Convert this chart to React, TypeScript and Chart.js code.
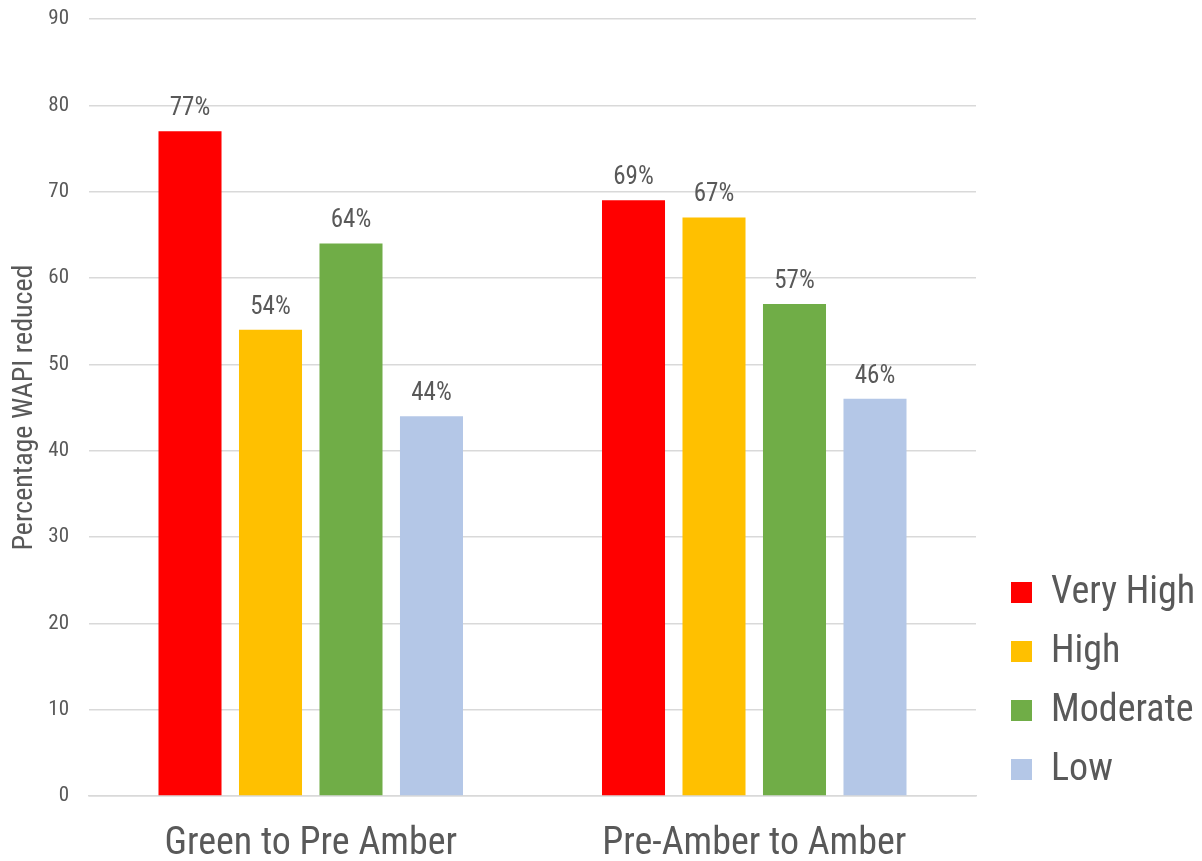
import React, { useEffect, useRef } from "react";
import { Chart, registerables } from "chart.js";

Chart.register(...registerables);

const categories = ["Green to Pre Amber", "Pre-Amber to Amber"];
const seriesNames = ["Very High", "High", "Moderate", "Low"];
const veryHigh = [77, 69];
const high = [54, 67];
const moderate = [64, 57];
const low = [44, 46];
const colors = ["#FF0000", "#FFC000", "#70AD47", "#B4C7E7"];
const yTicks = [0, 10, 20, 30, 40, 50, 60, 70, 80, 90];

const FONT = "'Liberation Sans Narrow', 'Arial Narrow', 'Roboto Condensed', 'Liberation Sans', sans-serif";
const TEXT = "#595959";

const labelPlugin = {
  id: "barLabels",
  afterDatasetsDraw(chart: any) {
    const ctx = chart.ctx;
    ctx.save();
    ctx.font = `25px ${FONT}`;
    ctx.fillStyle = TEXT;
    ctx.textAlign = "center";
    ctx.textBaseline = "bottom";
    chart.data.datasets.forEach((ds: any, i: number) => {
      const meta = chart.getDatasetMeta(i);
      meta.data.forEach((bar: any, j: number) => {
        ctx.fillText(`${ds.data[j]}%`, bar.x, bar.y - 10);
      });
    });
    ctx.restore();
  },
};

const legendPlugin = {
  id: "customLegend",
  afterDraw(chart: any) {
    const ctx = chart.ctx;
    ctx.save();
    ctx.font = `38px ${FONT}`;
    ctx.textBaseline = "middle";
    ctx.textAlign = "left";
    chart.data.datasets.forEach((ds: any, i: number) => {
      const cy = 592 + i * 59;
      ctx.fillStyle = ds.backgroundColor;
      ctx.fillRect(1011, cy - 10, 21, 21);
      ctx.fillStyle = TEXT;
      ctx.fillText(ds.label, 1051, cy + 1);
    });
    ctx.restore();
  },
};

export default function App() {
  const ref = useRef<HTMLCanvasElement>(null);
  useEffect(() => {
    if (!ref.current) return;
    const series = [veryHigh, high, moderate, low];
    const chart = new Chart(ref.current, {
      type: "bar",
      data: {
        labels: categories,
        datasets: series.map((d, i) => ({
          label: seriesNames[i],
          data: d,
          backgroundColor: colors[i],
          categoryPercentage: 0.726,
          barPercentage: 0.783,
        })),
      },
      options: {
        animation: false,
        responsive: false,
        layout: { padding: { top: 19, right: 226, left: 0, bottom: 0 } },
        plugins: { legend: { display: false }, tooltip: { enabled: false } },
        scales: {
          x: {
            grid: { display: false },
            border: { display: true, color: "#d9d9d9", width: 1.5 },
            ticks: { color: TEXT, font: { family: FONT, size: 38 }, padding: 18 },
            afterFit: (s: any) => { s.height = 65; s.paddingLeft = 0; s.paddingRight = 0; },
          },
          y: {
            min: 0,
            max: 90,
            afterBuildTicks: (s: any) => { s.ticks = yTicks.map((v) => ({ value: v })); },
            grid: { color: "#d9d9d9", lineWidth: 1.5, drawTicks: false },
            border: { display: false },
            ticks: { color: TEXT, font: { family: FONT, size: 21 }, padding: 20 },
            title: {
              display: true,
              text: "Percentage WAPI reduced",
              color: TEXT,
              font: { family: FONT, size: 28 },
              padding: { top: 8, bottom: 0 },
            },
            afterFit: (s: any) => { s.width = 89; s.paddingTop = 0; s.paddingBottom = 0; },
          },
        },
      },
      plugins: [labelPlugin, legendPlugin],
    });
    return () => chart.destroy();
  }, []);
  return (
    <div style={{ position: "fixed", left: 0, top: 0, width: 1202, height: 861, background: "#fff" }}>
      <canvas ref={ref} width={1202} height={861} />
    </div>
  );
}
